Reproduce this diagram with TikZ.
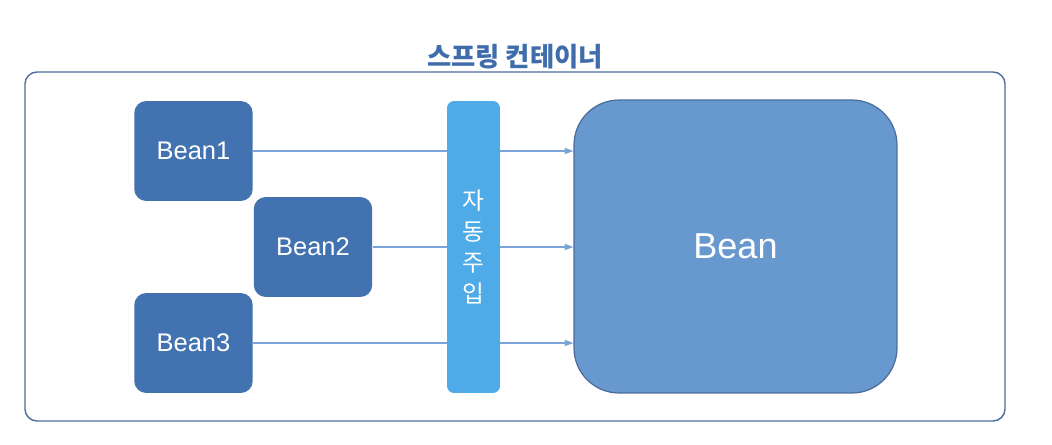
\documentclass[tikz,border=0pt]{standalone}
\usepackage{fontspec}
\setmainfont{Liberation Sans}
\newfontfamily\krfont{Noto Sans CJK KR}
\usetikzlibrary{arrows.meta,backgrounds}
\definecolor{beanblue}{HTML}{4272B0}
\definecolor{bigblue}{HTML}{6899CE}
\definecolor{bigline}{HTML}{4A6C9C}
\definecolor{barblue}{HTML}{4EABE8}
\definecolor{frameblue}{HTML}{4D6E9E}
\definecolor{titleblue}{HTML}{3F6DAB}
\definecolor{wireblue}{HTML}{7AA3D8}

\begin{document}
\begin{tikzpicture}[x=0.02cm, y=-0.02cm,
    >={Triangle[length=5pt,width=3.5pt]},
    bean/.style={fill=beanblue, rounded corners=0.24cm, text=white,
      minimum width=2.37cm, minimum height=2.0cm, font=\fontsize{14.5}{16}\selectfont},
    wire/.style={->, draw=wireblue, line width=0.7pt}]
    \useasboundingbox (0,0) rectangle (1052,444);
    % container
    \draw[frameblue, line width=0.8pt, rounded corners=0.24cm] (25,72) rectangle (1005,421);
    \node[anchor=base, text=titleblue, font=\krfont\bfseries\fontsize{15}{17}\selectfont]
      (title) at (515,66) {스프링 컨테이너};
    % beans
    \node[bean] (bean1) at (193.5,151) {Bean1};
    \node[bean] (bean2) at (313,247) {Bean2};
    \node[bean] (bean3) at (193.5,343) {Bean3};
    % injection bar
    \node[fill=barblue, rounded corners=0.14cm, minimum width=1.06cm, minimum height=5.84cm,
      text=white, align=center, font=\krfont\fontsize{13.5}{17.5}\selectfont]
      (inject) at (473.5,247) {자\\동\\주\\입};
    % target bean
    \node[fill=bigblue, draw=bigline, line width=0.7pt, rounded corners=0.9cm,
      minimum width=6.46cm, minimum height=5.86cm, text=white,
      font=\fontsize{20.5}{24}\selectfont] (bean) at (735.5,246.5) {Bean};
    % wires behind the bar
    \begin{pgfonlayer}{background}
      \fill[white] (0,0) rectangle (1052,444);
      \draw[wire] (bean1.east) -- (bean1.east -| bean.west);
      \draw[wire] (bean2.east) -- (bean2.east -| bean.west);
      \draw[wire] (bean3.east) -- (bean3.east -| bean.west);
    \end{pgfonlayer}
\end{tikzpicture}
\end{document}
